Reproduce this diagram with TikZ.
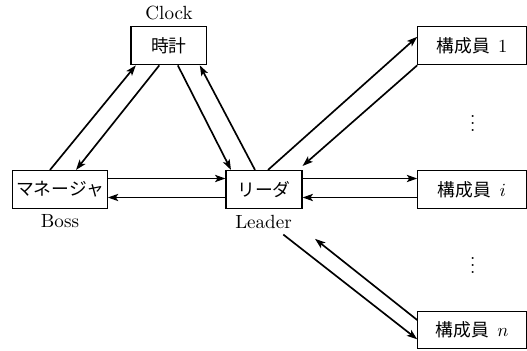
\documentclass[tikz,border=0pt]{standalone}
\usepackage{fontspec}
\newfontfamily\jp{Noto Sans CJK JP}
\usetikzlibrary{arrows.meta,calc}
\def\u{0.54pt}
\begin{document}
\begin{tikzpicture}[x=0.54pt,y=-0.54pt,
  box/.style={draw,line width=0.6pt,inner sep=0pt,minimum height=38*\u,font=\fontsize{9.6}{11.5}\selectfont\jp},
  lbl/.style={inner sep=0pt,font=\fontsize{10.3}{12}\selectfont},
  conn/.style={line width=0.9pt,-{Stealth[length=5.6pt,width=3.9pt,inset=1.3pt]}}]
\useasboundingbox (0,0) rectangle (527,350);
\node[box,minimum width=75.7*\u] (clock) at (168.8,45.8) {時計};
\node[box,minimum width=94.6*\u] (mgr) at (60,189.5) {マネージャ};
\node[box,minimum width=76*\u] (ldr) at (264,189.5) {リーダ};
\node[box,minimum width=108.5*\u] (m1) at (472,45.8) {構成員\hspace{4.5pt}$1$};
\node[box,minimum width=108.5*\u] (mi) at (472,189.5) {構成員\hspace{4.5pt}$i$};
\node[box,minimum width=108.5*\u,minimum height=37*\u] (mn) at (472,330) {構成員\hspace{4.5pt}$n$};
\node[lbl] (clocklbl) at (169,13) {Clock};
\node[lbl] (bosslbl) at (60,221) {Boss};
\node[lbl] (ldrlbl) at (263.5,222) {Leader};
\node[lbl] (dots1) at (472.7,118) {$\vdots$};
\node[lbl] (dots2) at (472.7,260) {$\vdots$};
\draw[conn] ($(mgr.north)+(-10,0)$) -- ($(clock.south)+(-33,0)$);
\draw[conn] ($(clock.south)+(-9.5,0)$) -- ($(mgr.north)+(16,0)$);
\draw[conn] ($(clock.south)+(9,0)$) -- ($(ldr.north)+(-33,0)$);
\draw[conn] ($(ldr.north)+(-9,0)$) -- ($(clock.south)+(31,0)$);
\draw[conn] ($(mgr.east)+(0,-11)$) -- ($(ldr.west)+(0,-11)$);
\draw[conn] ($(ldr.west)+(0,8)$) -- ($(mgr.east)+(0,8)$);
\draw[conn] ($(ldr.north)+(4,0)$) -- ($(m1.west)+(0,-9)$);
\draw[conn] (m1.south west) -- ($(ldr.north east)+(0,-4)$);
\draw[conn] ($(ldr.east)+(0,-11)$) -- ($(mi.west)+(0,-11)$);
\draw[conn] ($(mi.west)+(0,8)$) -- ($(ldr.east)+(0,8)$);
\draw[conn] ($(ldr.south)+(19.3,25.5)$) -- ($(mn.west)+(0,9.3)$);
\draw[conn] ($(mn.west)+(0,-10)$) -- ($(ldr.south)+(51,29.8)$);
\end{tikzpicture}
\end{document}
